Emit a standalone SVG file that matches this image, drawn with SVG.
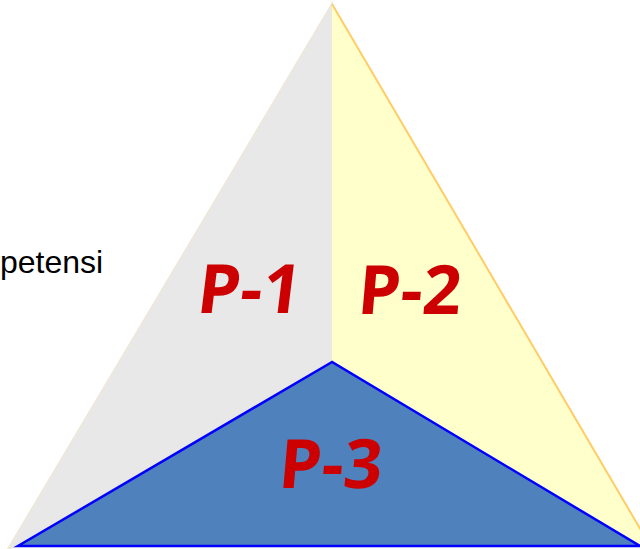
<svg xmlns="http://www.w3.org/2000/svg" width="640" height="549" viewBox="0 0 640 549">
<style>
.lbl{font-family:"Open Sans","DejaVu Sans",sans-serif;font-weight:700;font-size:68px;fill:#cc0000}
.side{font-family:"Liberation Sans",Arial,sans-serif;font-size:32px;fill:#000}
</style>
<rect width="640" height="549" fill="#ffffff"/>
<g id="p1">
<polygon points="332,4 8,549 18,546 332,362" fill="#e8e8e8" stroke="#ece8dc" stroke-width="2"/>
<text class="lbl" transform="translate(247,313) skewX(-7)" text-anchor="middle">P-1</text>
</g>
<g id="p2">
<polygon points="332,4 652,549 640,546 332,362" fill="#ffffcc"/>
<line x1="332" y1="4" x2="652" y2="549" stroke="#ffcc66" stroke-width="2"/>
<text class="lbl" transform="translate(408,314) skewX(-5)" text-anchor="middle">P-2</text>
</g>
<g id="p3">
<polygon points="332,362 18,546 640,546" fill="#4f81bd" stroke="#0000ff" stroke-width="2.5"/>
<text class="lbl" transform="translate(329,488) skewX(-5)" text-anchor="middle">P-3</text>
</g>
<g id="side-text">
<text class="side" x="0" y="273">petensi</text>
</g>
<g id="connectors"></g>
</svg>
